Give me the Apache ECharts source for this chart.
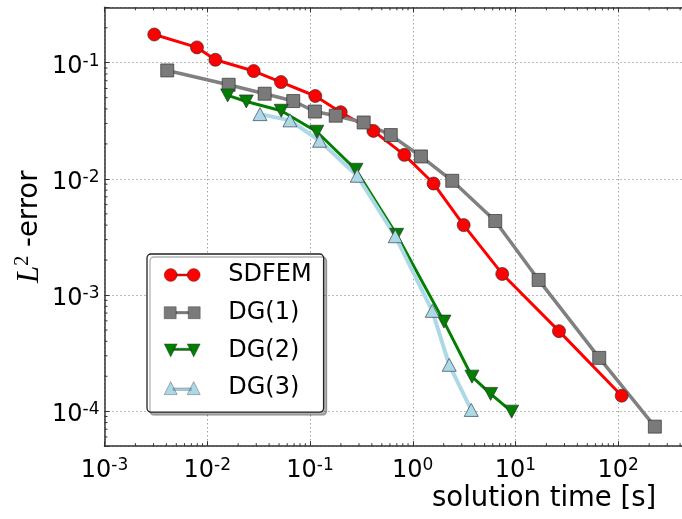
<!DOCTYPE html>
<html>
<head>
<meta charset="utf-8">
<script src="https://cdn.jsdelivr.net/npm/echarts@6/dist/echarts.min.js"></script>
<style>
html,body{margin:0;padding:0;background:#fff;}
#chart{width:682px;height:519px;}
</style>
</head>
<body>
<div id="chart"></div>
<script>
// ---- data ----
const seriesNames = ['SDFEM', 'DG(1)', 'DG(2)', 'DG(3)'];
const sdfemTime = [0.00305, 0.00794, 0.0120, 0.0283, 0.0522, 0.1125, 0.199, 0.414, 0.828, 1.594, 3.13, 7.43, 26.5, 108];
const sdfemErr  = [0.175, 0.1355, 0.106, 0.0848, 0.0682, 0.0517, 0.0375, 0.0259, 0.0161, 0.00912, 0.0040, 0.00152, 0.000489, 0.000136];
const dg1Time = [0.00408, 0.01616, 0.0362, 0.0687, 0.1117, 0.178, 0.333, 0.611, 1.202, 2.424, 6.35, 16.8, 65.3, 227];
const dg1Err  = [0.0858, 0.0646, 0.0541, 0.0468, 0.0380, 0.0350, 0.0306, 0.02384, 0.0156, 0.00963, 0.00434, 0.00135, 0.000288, 0.0000737];
const dg2Time = [0.0158, 0.0240, 0.0525, 0.1165, 0.280, 0.697, 2.013, 3.77, 5.73, 9.18];
const dg2Err  = [0.0523, 0.0464, 0.0386, 0.02547, 0.01198, 0.0033, 0.000591, 0.0001985, 0.000141, 0.0000992];
const dg3Time = [0.0326, 0.0638, 0.124, 0.288, 0.676, 1.548, 2.265, 3.71];
const dg3Err  = [0.0361, 0.0319, 0.0213, 0.01064, 0.00321, 0.000731, 0.000251, 0.0001026];

// axis ranges
const xMin = 1e-3, xMax = 1e3;
const yMin = 5e-5, yMax = 0.3;
const xDecades = [-3, -2, -1, 0, 1, 2];
const yDecades = [-5, -4, -3, -2, -1];
const minorMult = [2, 3, 4, 5, 6, 7, 8, 9];

const xMinor = [];
xDecades.forEach(k => minorMult.forEach(m => { const v = m * Math.pow(10, k); if (v > xMin && v < xMax) xMinor.push(v); }));
const yMinor = [];
yDecades.forEach(k => minorMult.forEach(m => { const v = m * Math.pow(10, k); if (v > yMin && v < yMax) yMinor.push(v); }));

function pairs(t, e) { return t.map((x, i) => [x, e[i]]); }

function powLabel(v) {
  const lg = Math.log10(v);
  const e = Math.round(lg);
  if (Math.abs(lg - e) > 1e-6) return '';
  return '{b|10}{s|' + e + '}';
}
const labelRich = {
  b: { fontSize: 24, fontFamily: 'DejaVu Sans', color: '#000', lineHeight: 28 },
  s: { fontSize: 17, fontFamily: 'DejaVu Sans', color: '#000', lineHeight: 12, verticalAlign: 'top' }
};

const edge = '#333';
const iconCircle = 'path://M0,6.5A6.5,6.5,0,1,1,13,6.5A6.5,6.5,0,1,1,0,6.5ZM12,5.4L24,5.4L24,7.6L12,7.6ZM23,6.5A6.5,6.5,0,1,1,36,6.5A6.5,6.5,0,1,1,23,6.5Z';
const iconSquare = 'path://M0,0.5L12,0.5L12,12.5L0,12.5ZM12,5.4L24,5.4L24,7.6L12,7.6ZM24,0.5L36,0.5L36,12.5L24,12.5Z';
const iconDown = 'path://M0,0L13,0L6.5,13ZM9,4.3L27,4.3L27,6.5L9,6.5ZM23,0L36,0L29.5,13Z';
const iconUp = 'path://M6.5,0L13,13L0,13ZM9,6.5L27,6.5L27,8.7L9,8.7ZM29.5,0L36,13L23,13Z';

const tickStyle = { stroke: '#333', lineWidth: 1 };

const option = {
  animation: false,
  backgroundColor: '#fff',
  grid: { left: 104.5, top: 7.3, width: 616.5, height: 438.9, outerBoundsMode: 'none' },
  xAxis: [
    {
      type: 'log', logBase: 10, min: xMin, max: xMax, position: 'bottom',
      axisLine: { show: true, lineStyle: { color: '#333', width: 1.5 } },
      axisTick: { show: true, inside: true, length: 5, lineStyle: { color: '#333', width: 1 } },
      minorTick: { show: false },
      axisLabel: { show: true, margin: 11, formatter: powLabel, rich: labelRich, showMinLabel: true, showMaxLabel: true },
      splitLine: { show: true, lineStyle: { color: '#555', width: 0.8, type: [1, 3] } }
    },
    {
      type: 'log', logBase: 10, min: xMin, max: xMax, position: 'top',
      axisLine: { show: true, lineStyle: { color: '#333', width: 1.5 } },
      axisTick: { show: true, inside: true, length: 5, lineStyle: { color: '#333', width: 1 } },
      axisLabel: { show: false },
      splitLine: { show: false }
    }
  ],
  yAxis: [
    {
      type: 'log', logBase: 10, min: yMin, max: yMax,
      axisLine: { show: true, lineStyle: { color: '#333', width: 1.5 } },
      axisTick: { show: true, inside: true, length: 5, lineStyle: { color: '#333', width: 1 } },
      axisLabel: { show: true, margin: 5, formatter: powLabel, rich: labelRich, padding: [8, 0, 0, 0] },
      splitLine: { show: true, lineStyle: { color: '#555', width: 0.8, type: [1, 3] } },
      name: '{i|L}{s|2}{n| -error}',
      nameLocation: 'middle',
      nameRotate: 90,
      nameGap: 58,
      nameMoveOverlap: false,
      nameTextStyle: {
        rich: {
          i: { fontFamily: 'Liberation Serif', fontStyle: 'italic', fontSize: 31, color: '#000', lineHeight: 34 },
          s: { fontFamily: 'Liberation Serif', fontSize: 20, color: '#000', lineHeight: 20, verticalAlign: 'top' },
          n: { fontFamily: 'DejaVu Sans', fontSize: 27.5, color: '#000', lineHeight: 34 }
        }
      }
    }
  ],
  legend: {
    left: 147, top: 254, orient: 'vertical',
    padding: [7, 12, 10, 17], itemGap: 9.7, itemWidth: 36, itemHeight: 13,
    backgroundColor: '#fff', borderColor: '#222', borderWidth: 1.3, borderRadius: 4,
    shadowColor: 'rgba(0,0,0,0.3)', shadowOffsetX: 3, shadowOffsetY: 3, shadowBlur: 0,
    itemStyle: { borderWidth: 0.4 },
    textStyle: { fontSize: 24, fontFamily: 'DejaVu Sans', color: '#000', lineHeight: 28, padding: [0, 0, 0, 23] },
    data: [
      { name: seriesNames[0], icon: iconCircle },
      { name: seriesNames[1], icon: iconSquare },
      { name: seriesNames[2], icon: iconDown },
      { name: seriesNames[3], icon: iconUp }
    ]
  },
  graphic: [
    { type: 'text', left: 432, top: 485, style: { text: 'solution time [s]', fontSize: 27.5, fontFamily: 'DejaVu Sans', fill: '#000' } }
  ],
  series: [
    {
      type: 'custom', name: 'xminor', silent: true, clip: false, coordinateSystem: 'cartesian2d',
      data: xMinor.map(v => [v, yMin]),
      renderItem(params, api) {
        const cs = params.coordSys;
        const px = api.coord([api.value(0), yMin])[0];
        const yb = cs.y + cs.height, yt = cs.y;
        return { type: 'group', children: [
          { type: 'line', shape: { x1: px, y1: yb, x2: px, y2: yb - 3 }, style: tickStyle },
          { type: 'line', shape: { x1: px, y1: yt, x2: px, y2: yt + 3 }, style: tickStyle }
        ] };
      }
    },
    {
      type: 'custom', name: 'yminor', silent: true, clip: false, coordinateSystem: 'cartesian2d',
      data: yMinor.map(v => [xMin, v]),
      renderItem(params, api) {
        const cs = params.coordSys;
        const py = api.coord([xMin, api.value(1)])[1];
        return { type: 'line', shape: { x1: cs.x, y1: py, x2: cs.x + 3, y2: py }, style: tickStyle };
      }
    },
    {
      name: seriesNames[0], type: 'line', data: pairs(sdfemTime, sdfemErr),
      symbol: 'circle', symbolSize: 13,
      lineStyle: { color: '#ff0000', width: 3 },
      itemStyle: { color: '#ff0000', borderColor: edge, borderWidth: 0.7 }
    },
    {
      name: seriesNames[1], type: 'line', data: pairs(dg1Time, dg1Err),
      symbol: 'rect', symbolSize: 13,
      lineStyle: { color: '#808080', width: 3.5 },
      itemStyle: { color: '#7a7a7a', borderColor: edge, borderWidth: 0.7 }
    },
    {
      name: seriesNames[2], type: 'line', data: pairs(dg2Time, dg2Err),
      symbol: 'path://M0,0L2,0L1,2Z', symbolSize: [14, 13],
      lineStyle: { color: '#007f00', width: 3 },
      itemStyle: { color: '#007f00', borderColor: edge, borderWidth: 0.7 }
    },
    {
      name: seriesNames[3], type: 'line', data: pairs(dg3Time, dg3Err),
      symbol: 'triangle', symbolSize: [14, 13],
      lineStyle: { color: '#add8e6', width: 4 },
      itemStyle: { color: '#add8e6', borderColor: '#345', borderWidth: 0.7 }
    }
  ]
};

const chart = echarts.init(document.getElementById('chart'), null, { renderer: 'canvas' });
chart.setOption(option);
</script>
</body>
</html>
